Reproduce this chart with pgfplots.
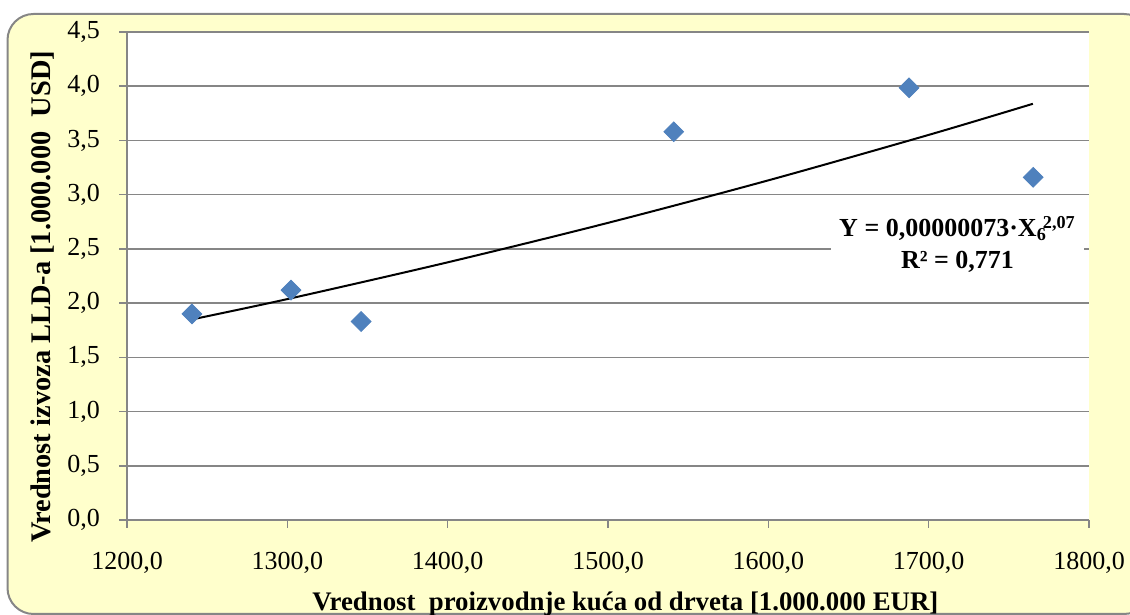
\documentclass[border=0pt]{standalone}
\usepackage{fontspec}
\setmainfont{Liberation Serif}
\usepackage{pgfplots}
\pgfplotsset{compat=1.18}
\definecolor{bgyellow}{RGB}{255,255,204}
\definecolor{gridgray}{RGB}{134,134,134}
\definecolor{markblue}{RGB}{79,129,189}
\begin{document}
\begin{tikzpicture}
\useasboundingbox (0,0) rectangle (565pt,307.5pt);
\clip (0,0) rectangle (565pt,307.5pt);
% chart area background
\draw[gridgray, line width=1pt, fill=bgyellow, rounded corners=13pt]
  (3.75pt,0.5pt) rectangle (575pt,300.5pt);
\begin{axis}[
    at={(63.5pt,47.5pt)}, anchor=south west,
    scale only axis, width=481pt, height=244pt,
    xmin=1200, xmax=1800, ymin=0, ymax=4.5,
    xtick={1200,1300,1400,1500,1600,1700,1800},
    ytick={0,0.5,1,1.5,2,2.5,3,3.5,4,4.5},
    axis x line*=bottom, axis y line*=left,
    axis line style={gridgray, line width=0.75pt, -},
    tick style={gridgray, line width=0.75pt},
    tick align=outside, major tick length=4pt,
    ymajorgrids,
    major grid style={gridgray, line width=0.75pt},
    axis background/.style={fill=white},
    /pgf/number format/.cd, fixed, fixed zerofill, precision=1,
        use comma, 1000 sep={}, assume math mode=true,
    /pgfplots/.cd,
    ticklabel style={font=\fontsize{13}{15}\selectfont},
    xticklabel style={yshift=-8.5pt},
    yticklabel style={xshift=-6pt},
    xlabel={Vrednost\ \ proizvodnje kuća od drveta [1.000.000 EUR]},
    xlabel style={font=\bfseries\fontsize{13.4}{15}\selectfont,
        at={(axis description cs:0.518,-0.172)}, anchor=center},
    ylabel={Vrednost izvoza LLD-a [1.000.000\ \ USD]},
    ylabel style={font=\bfseries\fontsize{14.2}{16}\selectfont,
        at={(axis description cs:-0.0874,0.457)}, anchor=center},
]
% observations
\addplot[only marks, mark=square*, mark size=3.5pt,
    mark options={rotate=45, fill=markblue, draw=markblue}]
coordinates {
    (1240.5,1.90)
    (1302.3,2.12)
    (1346.0,1.83)
    (1541.0,3.58)
    (1687.8,3.985)
    (1765.2,3.16)
};
% power trend line
\addplot[black, line width=1pt, smooth]
coordinates {
    (1240,1.848)
    (1300,2.037)
    (1400,2.376)
    (1500,2.740)
    (1600,3.132)
    (1700,3.551)
    (1765,3.838)
};
\node[fill=white, inner xsep=4pt, inner ysep=3pt, align=center,
    font=\bfseries\fontsize{13}{16}\selectfont]
  at (axis cs:1718,2.54)
  {Y = 0,00000073·X\textsubscript{6}\hspace{-0.15em}\textsuperscript{2,07}\\R² = 0,771};
\end{axis}
\end{tikzpicture}
\end{document}
